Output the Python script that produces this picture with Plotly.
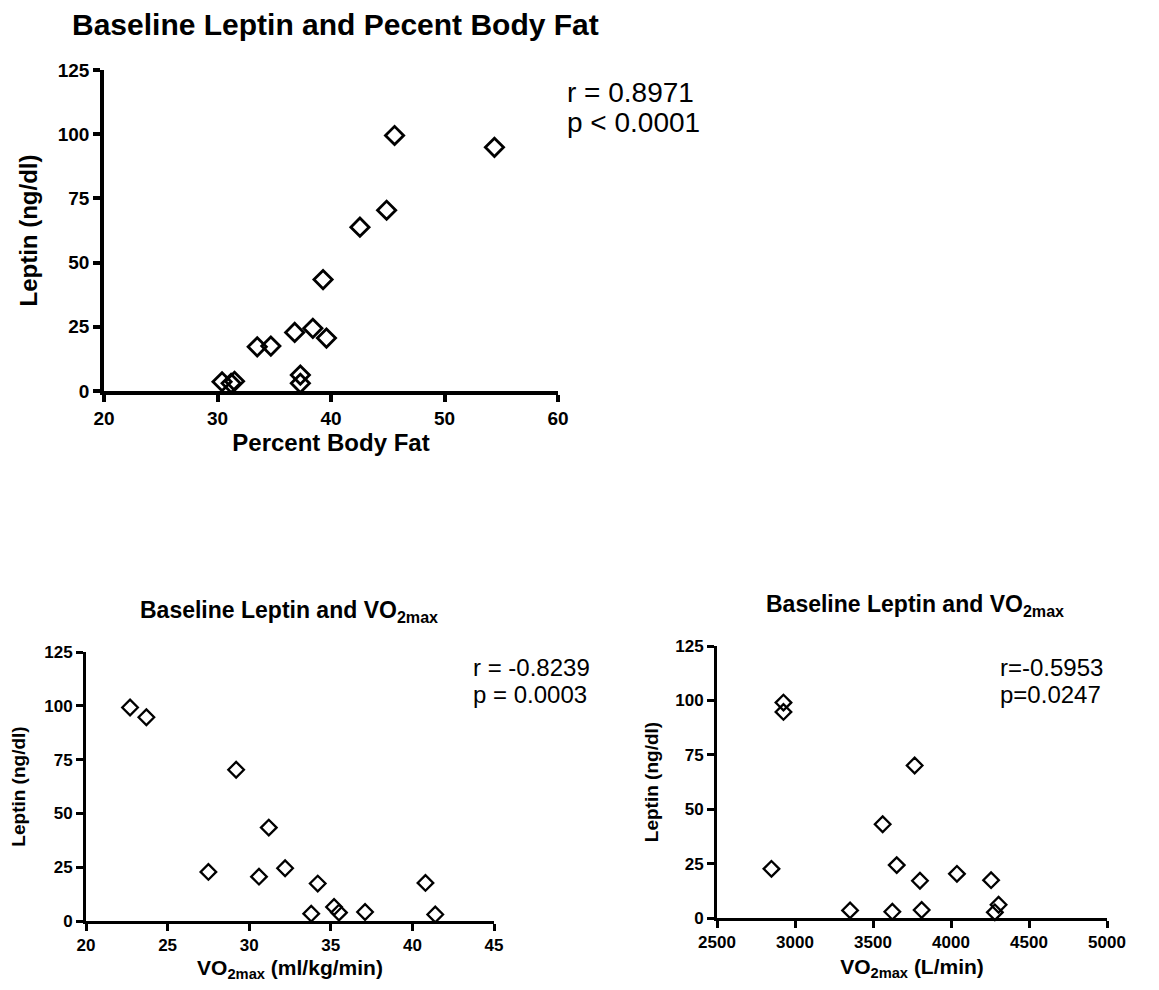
import plotly.graph_objects as go

# Top chart: percent body fat vs leptin
bodyfat = [30.4, 31.2, 31.5, 33.5, 34.7, 36.8, 37.3, 37.3, 38.4, 39.6, 39.3, 42.55, 44.9, 45.6, 54.4]
leptin_bf = [3.6, 3.0, 3.8, 17.2, 17.5, 22.8, 6.2, 3.0, 24.4, 20.6, 43.4, 63.8, 70.4, 99.5, 94.9]

# Bottom left: VO2max (ml/kg/min) vs leptin
vo2_rel = [22.7, 23.7, 27.5, 29.2, 30.6, 31.2, 32.2, 33.8, 34.2, 35.2, 35.5, 37.1, 40.8, 41.4]
leptin_rel = [99.2, 94.7, 22.8, 70.3, 20.6, 43.4, 24.5, 3.4, 17.4, 6.5, 3.9, 4.2, 17.7, 3.0]

# Bottom right: VO2max (L/min) vs leptin
vo2_abs = [2849, 2926, 2926, 3353, 3562, 3624, 3652, 3767, 3801, 3812, 4038, 4257, 4281, 4305]
leptin_abs = [22.6, 99.0, 94.7, 3.5, 43.1, 2.9, 24.3, 70.1, 17.1, 3.7, 20.3, 17.4, 2.6, 6.1]

y_ticks = [0, 25, 50, 75, 100, 125]
x_ticks_bf = [20, 30, 40, 50, 60]
x_ticks_rel = [20, 25, 30, 35, 40, 45]
x_ticks_abs = [2500, 3000, 3500, 4000, 4500, 5000]

FONT = "Arial, Liberation Sans, sans-serif"
W, H = 1159, 990

fig = go.Figure()

fig.add_trace(go.Scatter(x=bodyfat, y=leptin_bf, mode="markers", xaxis="x", yaxis="y",
                         marker=dict(symbol="diamond-open", size=14, color="black",
                                     line=dict(width=2.8, color="black")),
                         cliponaxis=False, showlegend=False))
fig.add_trace(go.Scatter(x=vo2_rel, y=leptin_rel, mode="markers", xaxis="x2", yaxis="y2",
                         marker=dict(symbol="diamond-open", size=12, color="black",
                                     line=dict(width=2.3, color="black")),
                         cliponaxis=False, showlegend=False))
fig.add_trace(go.Scatter(x=vo2_abs, y=leptin_abs, mode="markers", xaxis="x3", yaxis="y3",
                         marker=dict(symbol="diamond-open", size=12, color="black",
                                     line=dict(width=2.3, color="black")),
                         cliponaxis=False, showlegend=False))


def ax(domain, anchor, rng, ticks, title, fsize, tsize, standoff, lw):
    return dict(domain=domain, anchor=anchor, range=rng, tickvals=ticks, automargin=False,
                showline=True, linecolor="black", linewidth=lw, ticks="outside",
                ticklen=7, tickwidth=lw, tickcolor="black", showgrid=False, zeroline=False,
                tickfont=dict(family=FONT, size=fsize, color="black", weight="bold"),
                title=dict(text=title, standoff=standoff,
                           font=dict(family=FONT, size=tsize, color="black", weight="bold")))


fig.update_layout(
    width=W, height=H, autosize=False,
    margin=dict(l=0, r=0, t=0, b=0),
    paper_bgcolor="white", plot_bgcolor="white",
    xaxis=ax([104 / W, 558 / W], "y", [20, 60], x_ticks_bf, "Percent Body Fat", 19, 24, 3, 3.5),
    yaxis=ax([1 - 391 / H, 1 - 70 / H], "x", [0, 125], y_ticks, "Leptin (ng/dl)", 19, 24, 14, 3.5),
    xaxis2=ax([86 / W, 494 / W], "y2", [20, 45], x_ticks_rel, "VO<sub>2max</sub> (ml/kg/min)", 17, 21, 6, 3),
    yaxis2=ax([1 - 921 / H, 1 - 652 / H], "x2", [0, 125], y_ticks, "Leptin (ng/dl)", 17, 19, 14, 3),
    xaxis3=ax([717 / W, 1107 / W], "y3", [2500, 5000], x_ticks_abs, "VO<sub>2max</sub> (L/min)", 17, 21, 8, 3),
    yaxis3=ax([1 - 918 / H, 1 - 646 / H], "x3", [0, 125], y_ticks, "Leptin (ng/dl)", 17, 19, 12, 3),
)

titles = [
    ("Baseline Leptin and Pecent Body Fat", 335, 24, 30),
    ("Baseline Leptin and VO<sub>2max</sub>", 289, 611, 23),
    ("Baseline Leptin and VO<sub>2max</sub>", 915, 605, 23),
]
for t, x, y, s in titles:
    fig.add_annotation(text=t, x=x / W, y=1 - y / H, xref="paper", yref="paper",
                       showarrow=False, xanchor="center", yanchor="middle",
                       font=dict(family=FONT, size=s, color="black", weight="bold"))

stat_lines = [
    ("r = 0.8971", 565, 92, 28),
    ("p < 0.0001", 565, 122, 28),
    ("r = -0.8239", 471, 667, 24),
    ("p = 0.0003", 471, 694, 24),
    ("r=-0.5953", 998, 667, 24),
    ("p=0.0247", 998, 694, 24),
]
for t, x, y, s in stat_lines:
    fig.add_annotation(text=t, x=x / W, y=1 - y / H, xref="paper", yref="paper",
                       showarrow=False, xanchor="left", yanchor="middle", align="left",
                       font=dict(family=FONT, size=s, color="black"))

fig.write_html("out.html")
